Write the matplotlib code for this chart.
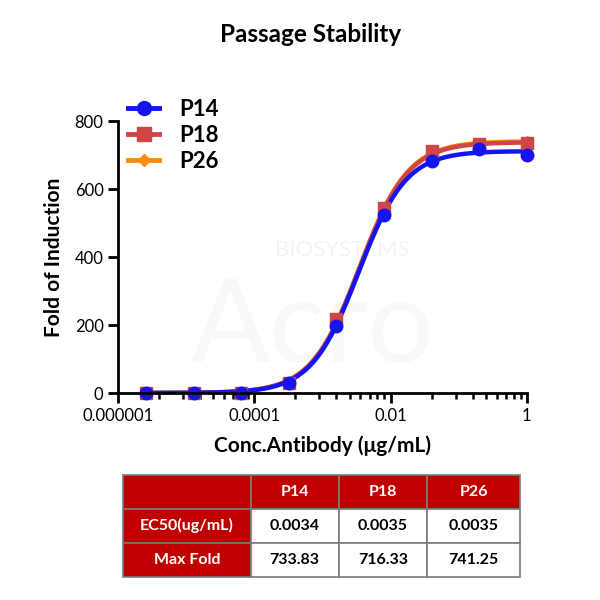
import numpy as np
import matplotlib
matplotlib.use("Agg")
import matplotlib.pyplot as plt
from matplotlib.ticker import FixedLocator, NullFormatter

plt.rcParams['font.family'] = ['Lato', 'DejaVu Sans']

# ---- data ----
conc = [2.56e-6, 1.28e-5, 6.4e-5, 0.00032, 0.0016, 0.008, 0.04, 0.2, 1.0]
p14 = [0, 0, 1, 28, 196, 523, 683, 718, 700]
p18 = [0, 0, 1, 30, 217, 545, 713, 733, 736]
p26 = [0, 0, 2, 32, 215, 540, 708, 737, 742]
series_names = ["P14", "P18", "P26"]
# 4PL fit parameters: bottom, top, EC50, hill
fit_bottom = [0, 0, 0]
fit_top = [712, 738, 741]
fit_ec50 = [0.0034, 0.0035, 0.0035]
fit_hill = [1.25, 1.22, 1.22]

xtick_vals = [1e-6, 1e-4, 1e-2, 1]
xtick_labels = ["0.000001", "0.0001", "0.01", "1"]
ytick_vals = [0, 200, 400, 600, 800]

table_cols = ["", "P14", "P18", "P26"]
table_rows = ["EC50(ug/mL)", "Max Fold"]
table_ec50 = ["0.0034", "0.0035", "0.0035"]
table_maxfold = ["733.83", "716.33", "741.25"]

colors = ["#1414F0", "#D04545", "#FF8A10"]
markers = ["o", "s", "D"]
msizes = [9, 8.5, 5]

fig = plt.figure(figsize=(6, 6), dpi=100)
ax = fig.add_axes([0.197, 0.345, 0.681, 0.453])

# faint watermark (behind the data)
ax.text(0.57, 1 - 250 / 600, "BIOSYSTEMS", fontsize=16, color="#f3f3f3", ha="center",
        va="center", zorder=0.5, transform=fig.transFigure, clip_on=False)
ax.text(0.52, 1 - 362 / 600, "Acro", fontsize=84, color="#f8f8f8", ha="center",
        va="baseline", zorder=0.5, transform=fig.transFigure, clip_on=False)

xs = np.logspace(np.log10(conc[0]), 0, 400)
ys_data = [p14, p18, p26]
draw_order = [2, 1, 0]
lines = {}
for i in draw_order:
    b, t, e, h = fit_bottom[i], fit_top[i], fit_ec50[i], fit_hill[i]
    yfit = b + (t - b) / (1 + (e / xs) ** h)
    ax.plot(xs, yfit, color=colors[i], lw=3.2, zorder=3 + (2 - i), solid_capstyle="round")
    ax.plot(conc, ys_data[i], linestyle="none", marker=markers[i], color=colors[i],
            markersize=msizes[i], zorder=6 + (2 - i), clip_on=False)
    lines[i], = ax.plot([], [], color=colors[i], lw=3.5, marker=markers[i],
                        markersize=msizes[i] + 1)

ax.set_xscale("log")
ax.set_xlim(1e-6, 1)
ax.set_ylim(0, 800)
ax.xaxis.set_major_locator(FixedLocator(xtick_vals))
ax.set_xticklabels(xtick_labels)
minor = []
for m in [1e-6, 1e-4, 1e-2]:
    for k in range(2, 10):
        minor.append(m * k * k)
ax.xaxis.set_minor_locator(FixedLocator(minor))
ax.xaxis.set_minor_formatter(NullFormatter())
ax.set_yticks(ytick_vals)

for s in ["top", "right"]:
    ax.spines[s].set_visible(False)
for s in ["left", "bottom"]:
    ax.spines[s].set_linewidth(2)
    ax.spines[s].set_zorder(10)
ax.tick_params(axis="both", which="major", width=2, length=7, labelsize=12, direction="out")
ax.tick_params(axis="x", which="minor", width=1.8, length=4, direction="out")
ax.tick_params(axis="x", pad=4)

ax.set_xlabel("Conc.Antibody (μg/mL)", fontsize=15, fontweight="bold", labelpad=8)
ax.set_ylabel("Fold of Induction", fontsize=15, fontweight="bold", labelpad=8)
fig.text(0.518, 0.942, "Passage Stability", fontsize=17.5, fontweight="bold", ha="center", va="center")

leg = ax.legend([lines[0], lines[1], lines[2]], series_names, loc="upper left",
                bbox_to_anchor=(-0.025, 1.155), frameon=False, handlelength=1.4,
                handletextpad=0.9, labelspacing=0.22, prop={"size": 16, "weight": "bold"})
leg.set_zorder(20)

# ---- table ----
tax = fig.add_axes([0.205, 0.0388, 0.662, 0.1695])
tax.axis("off")
cell_text = [table_cols, [table_rows[0]] + table_ec50, [table_rows[1]] + table_maxfold]
tbl = tax.table(cellText=cell_text, cellLoc="center", bbox=[0, 0, 1, 1],
                colWidths=[0.321, 0.222, 0.222, 0.235])
tbl.auto_set_font_size(False)
red = "#C00000"
for (r, c), cell in tbl.get_celld().items():
    cell.set_edgecolor("#7a7a7a")
    cell.set_linewidth(1.2)
    txt = cell.get_text()
    txt.set_fontsize(11.5)
    txt.set_fontweight("bold")
    if r == 0 or c == 0:
        cell.set_facecolor(red)
        txt.set_color("white")
    else:
        cell.set_facecolor("white")
        txt.set_color("black")

fig.savefig("out.png", dpi=100)
